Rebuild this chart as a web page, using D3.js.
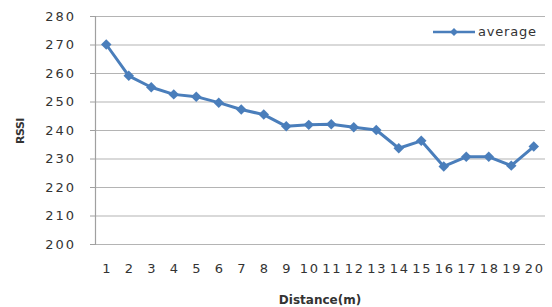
<!DOCTYPE html>
<html>
<head>
<meta charset="utf-8">
<script src="https://cdn.jsdelivr.net/npm/d3@7"></script>
<style>
  body { margin: 0; background: #fff; }
  text { font-family: "DejaVu Sans", Verdana, sans-serif; fill: #333; }
  .grid line { stroke: #b4b4b4; stroke-width: 1.2; }
  .grid .domain { display: none; }
</style>
</head>
<body>
<svg width="552" height="307"></svg>
<script>
var distances = [1, 2, 3, 4, 5, 6, 7, 8, 9, 10, 11, 12, 13, 14, 15, 16, 17, 18, 19, 20];
var average = [270, 259, 255, 252.5, 251.7, 249.6, 247.2, 245.4, 241.3, 241.8, 242, 241, 240, 233.6, 236.2, 227.2, 230.6, 230.6, 227.5, 234.2];
var yTicks = [200, 210, 220, 230, 240, 250, 260, 270, 280];

var svg = d3.select("svg");
var mLeft = 95, mRight = 545, mTop = 16, mBottom = 244;

var x = d3.scaleBand()
  .domain(distances)
  .range([mLeft, mRight]);
var y = d3.scaleLinear()
  .domain([200, 280])
  .range([mBottom, mTop]);

// horizontal gridlines
svg.append("g")
  .attr("class", "grid")
  .attr("transform", "translate(" + mLeft + ",0)")
  .call(d3.axisLeft(y).tickValues(yTicks).tickSize(-(mRight - mLeft)).tickFormat(""));

// left axis with labels
var ya = svg.append("g")
  .attr("transform", "translate(" + mLeft + ",0)")
  .call(d3.axisLeft(y).tickValues(yTicks).tickSize(5).tickPadding(14));
ya.select(".domain").attr("stroke", "#a0a0a0").attr("stroke-width", 1.2);
ya.selectAll(".tick line").attr("stroke", "#a0a0a0");
ya.selectAll("text")
  .style("font-size", "13px")
  .style("letter-spacing", "2px")
  .attr("fill", "#333");

// bottom labels
var xa = svg.append("g")
  .attr("transform", "translate(0," + mBottom + ")")
  .call(d3.axisBottom(x).tickSize(0).tickPadding(20));
xa.select(".domain").remove();
xa.selectAll("text")
  .style("font-size", "13px")
  .style("letter-spacing", "1.8px")
  .attr("dx", "1px")
  .attr("fill", "#333");

var cx = d => x(d) + x.bandwidth() / 2;

svg.append("path")
  .datum(d3.zip(distances, average))
  .attr("fill", "none")
  .attr("stroke", "#4a7ebb")
  .attr("stroke-width", 3)
  .attr("stroke-linejoin", "round")
  .attr("d", d3.line().x(d => cx(d[0])).y(d => y(d[1])));

var diamond = d3.symbol().type(d3.symbolDiamond2).size(70);
svg.selectAll(".pt")
  .data(d3.zip(distances, average))
  .enter().append("path")
    .attr("class", "pt")
    .attr("fill", "#4a7ebb")
    .attr("d", diamond)
    .attr("transform", d => "translate(" + cx(d[0]) + "," + y(d[1]) + ")");

// legend
var lg = svg.append("g").attr("transform", "translate(433,32)");
lg.append("line").attr("x1", 0).attr("x2", 42)
  .attr("stroke", "#4a7ebb").attr("stroke-width", 2.5);
lg.append("path").attr("d", d3.symbol().type(d3.symbolDiamond2).size(40))
  .attr("transform", "translate(21,0)").attr("fill", "#4a7ebb");
lg.append("text").attr("x", 45).attr("y", 4)
  .style("font-size", "13px").style("letter-spacing", "0.8px")
  .text("average");

// axis titles
svg.append("text")
  .attr("transform", "translate(24,131) rotate(-90)")
  .attr("text-anchor", "middle")
  .style("font-size", "11px")
  .style("font-weight", "bold")
  .style("letter-spacing", "-0.5px")
  .text("RSSI");

svg.append("text")
  .attr("x", 320)
  .attr("y", 304)
  .attr("text-anchor", "middle")
  .style("font-size", "12px")
  .style("font-weight", "bold")
  .text("Distance(m)");
</script>
</body>
</html>
